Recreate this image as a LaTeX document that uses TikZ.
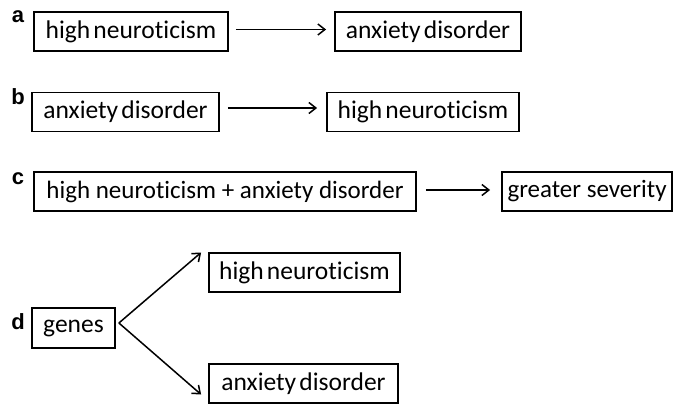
\documentclass[tikz,border=0pt]{standalone}
\usepackage{fontspec}
\setmainfont[Ligatures=NoCommon]{Carlito}
\newfontfamily\tightfont[Ligatures=NoCommon,WordSpace=0.55]{Carlito}
\newfontfamily\labelfont{Liberation Sans}
\usetikzlibrary{arrows.meta}
\begin{document}
\begin{tikzpicture}[x=1pt,y=-1pt,
  box/.style={draw,line width=1.8pt,minimum height=39pt,inner sep=0pt,
    font=\tightfont\fontsize{25.5}{30}\selectfont},
  widebox/.style={box,font=\fontsize{25}{30}\selectfont},
  panel/.style={font=\labelfont\bfseries\fontsize{22}{26}\selectfont,inner sep=0pt},
  link/.style={line width=1.5pt,-{Straight Barb[length=7pt,width=11pt,line width=1.5pt]}}]
\useasboundingbox (0,0) rectangle (674,404);

% (a) neuroticism leads to anxiety disorder
\node[panel] (la) at (18,17) {a};
\node[box,minimum width=194pt] (a1) at (131,31.5) {high neuroticism};
\node[box,minimum width=186pt] (a2) at (428,31.5) {anxiety disorder};
\draw[link] ([xshift=7pt,yshift=2pt]a1.east) -- ([xshift=-8pt,yshift=2pt]a2.west);

% (b) anxiety disorder leads to neuroticism
\node[panel] (lb) at (18,97) {b};
\node[box,minimum width=187pt] (b1) at (125.5,112) {anxiety disorder};
\node[box,minimum width=192pt] (b2) at (423,112) {high neuroticism};
\draw[link] ([xshift=8pt,yshift=4pt]b1.east) -- ([xshift=-9pt,yshift=4pt]b2.west);

% (c) combination gives greater severity
\node[panel] (lc) at (18,179) {c};
\node[widebox,minimum width=382pt] (c1) at (225,191.5) {high neuroticism + anxiety disorder};
\node[widebox,minimum width=170pt] (c2) at (587,191.5) {greater severity};
\draw[link] ([xshift=9pt,yshift=1.5pt]c1.east) -- ([xshift=-11pt,yshift=1.5pt]c2.west);

% (d) shared genetic cause
\node[panel] (ld) at (18,322) {d};
\node[box,minimum width=83pt,minimum height=40pt] (d0) at (73.5,328) {genes};
\node[box,minimum width=191pt] (d1) at (304.5,272.5) {high neuroticism};
\node[box,minimum width=189pt] (d2) at (303.5,383.5) {anxiety disorder};
\coordinate (fork) at ([xshift=3pt,yshift=5pt]d0.east);
\draw[link] (fork) -- ([xshift=-7pt,yshift=20pt]d1.west);
\draw[link] (fork) -- ([xshift=-7pt,yshift=-11pt]d2.west);
\end{tikzpicture}
\end{document}
